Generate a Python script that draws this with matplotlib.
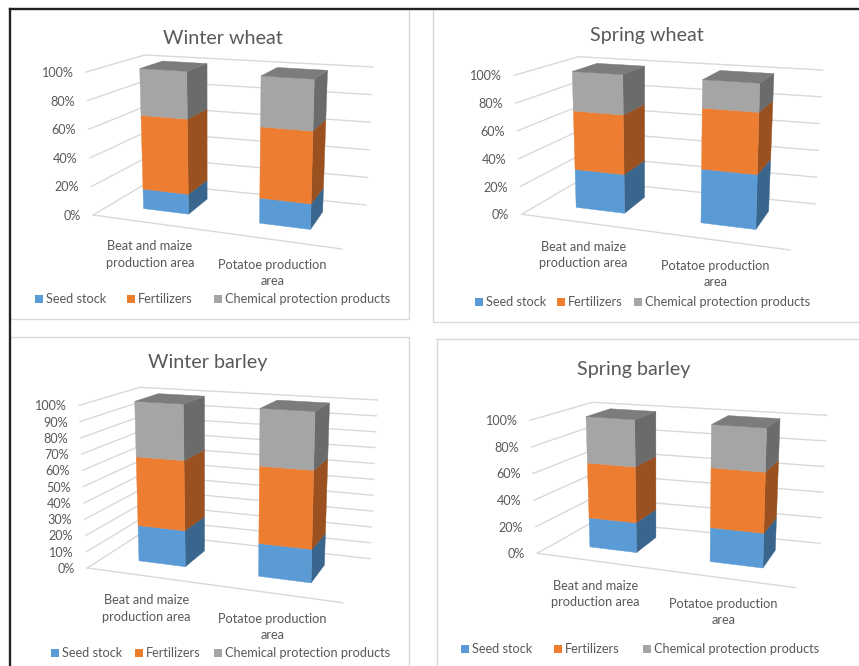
import matplotlib
matplotlib.use("Agg")
import matplotlib.pyplot as plt
from matplotlib.patches import Polygon, Rectangle

plt.rcParams['font.family'] = ['Lato', 'DejaVu Sans']

# values in percent, [Beat and maize, Potatoe]
titles = ["Winter wheat", "Spring wheat", "Winter barley", "Spring barley"]
seed_stock = [[13.9, 17.0], [27.9, 37.5], [22.1, 19.5], [22.3, 24.8]]
fertilizers = [[52.6, 48.4], [43.0, 42.6], [43.1, 46.1], [42.1, 43.7]]
chemical = [[33.5, 34.6], [29.1, 19.9], [34.8, 34.4], [35.6, 31.6]]
tick_steps = [20, 20, 10, 20]
categories = ["Beat and maize\nproduction area", "Potatoe production\narea"]
series_names = ["Seed stock", "Fertilizers", "Chemical protection products"]

front_colors = ["#5B9BD5", "#ED7D31", "#A5A5A5"]
side_colors = ["#3A658C", "#9A511F", "#6B6B6B"]
top_color = "#7C7C7C"
text_color = "#595959"
grid_color = "#D9D9D9"

# box corners in pixels: front-left, front-right, back-left, back-right, floor then top
boxes = [
    [(93, 215), (342, 249), (147, 183), (366, 205), (86, 72), (347, 89), (145, 55), (373, 67)],
    [(521.7, 214.3), (790, 250), (580, 180), (815, 204), (514.3, 75.3), (795, 94), (578.3, 56.7), (822.7, 70)],
    [(87.3, 568), (342.7, 602.7), (141.7, 533), (370, 558.7), (79.3, 405.3), (348, 420.7), (140, 387.3), (377.3, 400)],
    [(537.3, 553.3), (795.7, 587.7), (594, 521.3), (820, 543.3), (530, 420.3), (800.7, 438.7), (592.3, 402.3), (826.7, 415.3)],
]
title_pos = [(223, 38.5), (647, 35.5), (208, 362.5), (634, 370)]
cat_pos = [[(150, 254.5), (272.7, 273)], [(583.3, 255), (715.7, 274)],
           [(146.7, 608.5), (272.7, 627)], [(595.7, 594), (723.3, 612)]]
legend_squares = [[35, 127, 214], [475, 557, 634], [51, 135, 213.7], [461, 554, 643]]
legend_y = [299, 301.7, 652.7, 649]

bar_x = [(0.137, 0.325), (0.622, 0.835)]
bar_d = (0.33, 0.75)


def project(box, x, d, v):
    # trilinear position inside the chart box
    v = v / 100
    pts = []
    for k in range(2):
        p = [(1 - d) * ((1 - x) * box[0][k] + x * box[1][k]) + d * ((1 - x) * box[2][k] + x * box[3][k]),
             (1 - d) * ((1 - x) * box[4][k] + x * box[5][k]) + d * ((1 - x) * box[6][k] + x * box[7][k])]
        pts.append((1 - v) * p[0] + v * p[1])
    return pts[0], pts[1]


fig = plt.figure(figsize=(8.59, 6.66), dpi=100)
ax = fig.add_axes([0, 0, 1, 1])
ax.set_xlim(0, 859)
ax.set_ylim(666, 0)
ax.axis('off')

# panel frames
ax.plot([10, 409, 409], [319, 319, 9], color=grid_color, lw=1)
ax.plot([433, 433, 859], [9, 321.7, 321.7], color=grid_color, lw=1)
ax.plot([10, 409, 409], [337.3, 337.3, 666], color=grid_color, lw=1)
ax.plot([436.7, 436.7], [666, 339.3], color=grid_color, lw=1)
ax.plot([436.7, 859], [339.3, 339.3], color=grid_color, lw=1)
ax.plot([10, 10], [666, 8.5], color="#222222", lw=1.7)
ax.plot([10, 859], [8.5, 8.5], color="#222222", lw=1.7)

for i, box in enumerate(boxes):
    ax.text(title_pos[i][0], title_pos[i][1], titles[i], fontsize=14.2, color=text_color, ha='center', va='center')

    # walls and gridlines
    for v in range(0, 101, tick_steps[i]):
        a = project(box, 0, 0, v)
        b = project(box, 0, 1, v)
        c = project(box, 1, 1, v)
        ax.plot([a[0], b[0], c[0]], [a[1], b[1], c[1]], color=grid_color, lw=1, solid_joinstyle='miter', zorder=1)
        ax.text(a[0] - 12.5, a[1] + 1, "%d%%" % v, fontsize=9.1, color=text_color, ha='right', va='center')
    a = project(box, 0, 0, 0)
    b = project(box, 1, 0, 0)
    ax.plot([a[0], b[0]], [a[1], b[1]], color=grid_color, lw=1, zorder=1)

    # stacked bars
    for j in range(2):
        x0, x1 = bar_x[j]
        d0, d1 = bar_d
        bottom = 0
        for s, values in enumerate([seed_stock, fertilizers, chemical]):
            top = bottom + values[i][j]
            front = [project(box, x0, d0, bottom), project(box, x1, d0, bottom),
                     project(box, x1, d0, top), project(box, x0, d0, top)]
            side = [project(box, x1, d0, bottom), project(box, x1, d1, bottom),
                    project(box, x1, d1, top), project(box, x1, d0, top)]
            ax.add_patch(Polygon(side, closed=True, fc=side_colors[s], ec=side_colors[s], lw=0.3, zorder=2))
            ax.add_patch(Polygon(front, closed=True, fc=front_colors[s], ec=front_colors[s], lw=0.3, zorder=2))
            bottom = top
        cap = [project(box, x0, d0, bottom), project(box, x1, d0, bottom),
               project(box, x1, d1, bottom), project(box, x0, d1, bottom)]
        ax.add_patch(Polygon(cap, closed=True, fc=top_color, ec=top_color, lw=0.3, zorder=2))

        ax.text(cat_pos[i][j][0], cat_pos[i][j][1], categories[j], fontsize=9.2, color=text_color,
                ha='center', va='center', linespacing=1.42)

    # legend
    for s, name in enumerate(series_names):
        sx = legend_squares[i][s]
        ax.add_patch(Rectangle((sx, legend_y[i] - 4), 8, 8, fc=front_colors[s], ec='none'))
        ax.text(sx + 11, legend_y[i], name, fontsize=9.2, color=text_color, ha='left', va='center')

fig.savefig("out.png", dpi=100)
